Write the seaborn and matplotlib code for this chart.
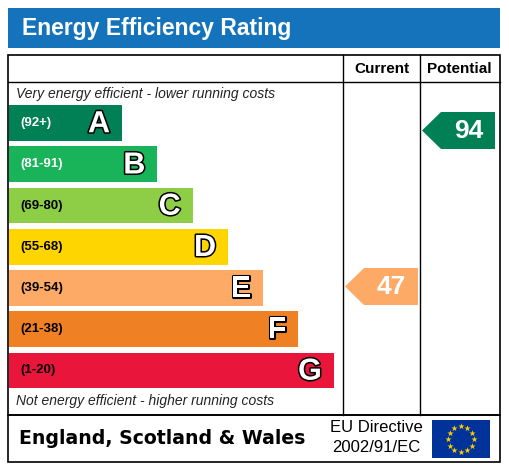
import matplotlib
matplotlib.use("Agg")
import matplotlib.pyplot as plt
import matplotlib.patheffects as pe
from matplotlib.patches import Rectangle, Polygon
import numpy as np
import pandas as pd
import seaborn as sns

bands = ["A", "B", "C", "D", "E", "F", "G"]
ranges = ["(92+)", "(81-91)", "(69-80)", "(55-68)", "(39-54)", "(21-38)", "(1-20)"]
lows = [92, 81, 69, 55, 39, 21, 1]
colors = ["#008054", "#19b459", "#8dce46", "#ffd500", "#fcaa65", "#ef8023", "#e9153b"]
range_text_colors = ["white", "white", "black", "black", "black", "black", "black"]
current = 47
potential = 94

W, H = 509, 467
fig = plt.figure(figsize=(W/100, H/100), dpi=100)
FONT = "Liberation Sans"

def band_index(v):
    for i, lo in enumerate(lows):
        if v >= lo:
            return i
    return len(lows) - 1

ov = fig.add_axes([0, 0, 1, 1])
ov.set_xlim(0, W); ov.set_ylim(H, 0); ov.axis("off")

ov.add_patch(Rectangle((8, 8), 492, 40, color="#1473bb", lw=0))
ov.text(22, 29, "Energy Efficiency Rating", color="white", fontsize=16.5,
        fontweight="bold", family=FONT, va="center", ha="left")
ov.add_patch(Rectangle((8, 55), 492, 360, fill=False, ec="black", lw=1.2))
ov.add_patch(Rectangle((8, 415), 492, 47, fill=False, ec="black", lw=1.2))
ov.plot([8, 500], [82, 82], color="black", lw=1)
for x in (343, 420):
    ov.plot([x, x], [55, 415], color="black", lw=1)
ov.text(381.5, 69, "Current", fontsize=11, fontweight="bold", family=FONT, ha="center", va="center")
ov.text(459, 69, "Potential", fontsize=11, fontweight="bold", family=FONT, ha="center", va="center")
ov.text(16, 94, "Very energy efficient - lower running costs", fontsize=10, style="italic",
        family=FONT, va="center", color="#222222")
ov.text(16, 401, "Not energy efficient - higher running costs", fontsize=10, style="italic",
        family=FONT, va="center", color="#222222")

top, bot = 102.4, 391.1
bx = fig.add_axes([0, 1 - bot/H, 1, (bot - top)/H])
df = pd.DataFrame({"band": bands, "length": [113 + 35.3*i for i in range(len(bands))]})
sns.barplot(data=df, y="band", x="length", hue="band", palette=colors, orient="h",
            width=0.87, ax=bx, legend=False, left=9, saturation=1)
bx.set_xlim(0, W); bx.axis("off")
for i, (b, r) in enumerate(zip(bands, ranges)):
    end = 9 + 113 + 35.3*i
    bx.text(20, i, r, fontsize=9.5, fontweight="bold", family=FONT, color=range_text_colors[i], va="center")
    bx.text(end - 12, i + 0.03, b, fontsize=22, fontweight="bold", family=FONT, color="white",
            ha="right", va="center",
            path_effects=[pe.withStroke(linewidth=2.2, foreground="black")])

def arrow(x0, x1, val, dy):
    i = band_index(val)
    yc = 123 + 41.25*i + dy
    h = 18.5
    ov.add_patch(Polygon([(x0, yc), (x0 + 19, yc - h), (x1, yc - h), (x1, yc + h), (x0 + 19, yc + h)],
                         closed=True, color=colors[i], lw=0))
    ov.text(x0 + 20 + (x1 - x0 - 20)/2, yc + 1, str(val), color="white", fontsize=19,
            fontweight="bold", family=FONT, ha="center", va="center")

arrow(345, 418, current, -1.5)
arrow(422, 495, potential, 7.5)

ov.text(19, 438, "England, Scotland & Wales", fontsize=13.6, fontweight="bold", family="DejaVu Sans", va="center")
ov.text(376, 428, "EU Directive", fontsize=12, family=FONT, ha="center", va="center")
ov.text(376, 448, "2002/91/EC", fontsize=12, family=FONT, ha="center", va="center")
ov.add_patch(Rectangle((432, 420), 58, 38, color="#003399", lw=0))
ang = np.linspace(0, 2*np.pi, 12, endpoint=False)
ov.scatter(461 + 13*np.cos(ang), 439 + 13*np.sin(ang), marker="*", s=22, color="#ffcc00", lw=0)

fig.savefig("out.png", dpi=100)
